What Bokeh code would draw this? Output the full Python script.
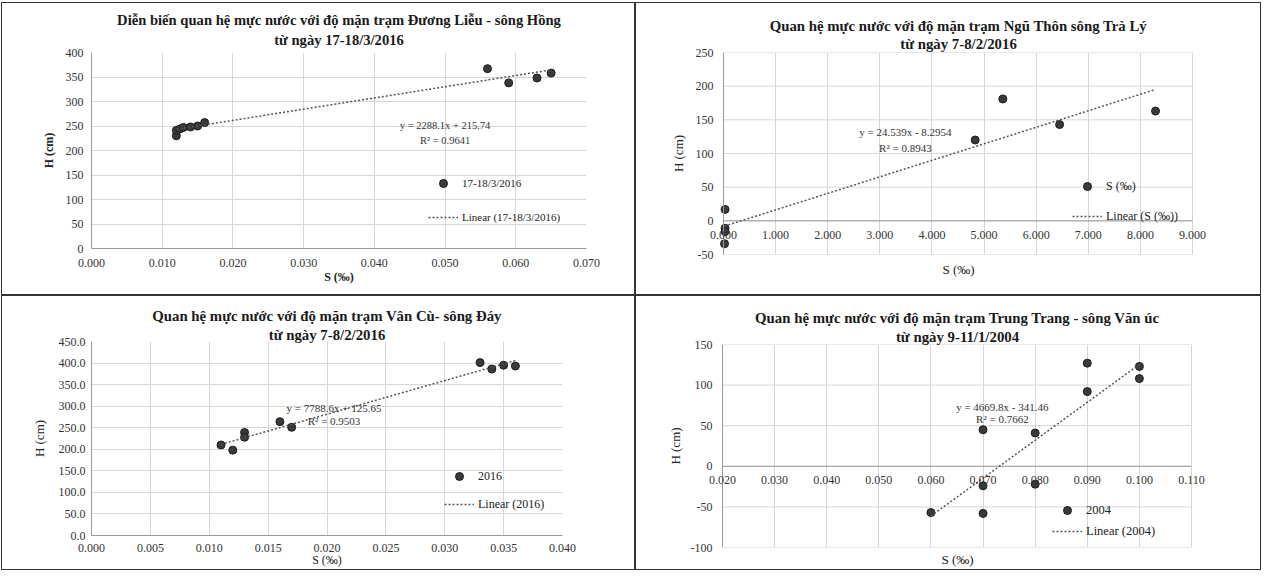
import numpy as np
from bokeh.plotting import figure
from bokeh.models import (Legend, LegendItem, Label, LabelSet, Title, NumeralTickFormatter,
                          FixedTicker, Range1d, Span, ColumnDataSource, Spacer)
from bokeh.layouts import row, column
from bokeh.embed import file_html
from bokeh.resources import INLINE

FONT = "Liberation Serif"

# ---------------- Panel 1: Đương Liễu - sông Hồng ----------------
p1_title = ["Diễn biến quan hệ mực nước với độ mặn trạm Đương Liễu - sông Hồng",
            "từ ngày 17-18/3/2016"]
p1_series = "17-18/3/2016"
p1_s = [0.012, 0.012, 0.0125, 0.013, 0.014, 0.015, 0.016, 0.056, 0.059, 0.063, 0.065]
p1_h = [230, 241, 244, 247, 248, 250, 257, 367, 338, 348, 358]
p1_fit = [2288.1, 215.74]
p1_r2 = [0.9641]
p1_xticks = [0.0, 0.01, 0.02, 0.03, 0.04, 0.05, 0.06, 0.07]
p1_yticks = [0, 50, 100, 150, 200, 250, 300, 350, 400]

# ---------------- Panel 2: Ngũ Thôn - sông Trà Lý ----------------
p2_title = ["Quan hệ mực nước với độ mặn trạm Ngũ Thôn sông Trà Lý",
            "từ ngày 7-8/2/2016"]
p2_series = "S (‰)"
p2_s = [0.03, 0.03, 0.03, 0.02, 4.83, 5.36, 6.45, 8.29]
p2_h = [17, -11, -16, -34, 120, 181, 143, 163]
p2_fit = [24.539, -8.2954]
p2_r2 = [0.8943]
p2_xticks = [0, 1, 2, 3, 4, 5, 6, 7, 8, 9]
p2_yticks = [-50, 0, 50, 100, 150, 200, 250]

# ---------------- Panel 3: Vân Cù - sông Đáy ----------------
p3_title = ["Quan hệ mực nước với độ mặn trạm Vân Cù- sông Đáy",
            "từ ngày 7-8/2/2016"]
p3_series = "2016"
p3_s = [0.011, 0.012, 0.013, 0.013, 0.016, 0.017, 0.033, 0.034, 0.035, 0.036]
p3_h = [210, 198, 239, 228, 264, 251, 401, 386, 395, 393]
p3_fit = [7788.6, 125.65]
p3_r2 = [0.9503]
p3_xticks = [0.0, 0.005, 0.01, 0.015, 0.02, 0.025, 0.03, 0.035, 0.04]
p3_yticks = [0, 50, 100, 150, 200, 250, 300, 350, 400, 450]

# ---------------- Panel 4: Trung Trang - sông Văn Úc ----------------
p4_title = ["Quan hệ mực nước với độ mặn trạm Trung Trang - sông Văn úc",
            "từ ngày 9-11/1/2004"]
p4_series = "2004"
p4_s = [0.06, 0.07, 0.07, 0.07, 0.08, 0.08, 0.09, 0.09, 0.10, 0.10]
p4_h = [-57, 45, -24, -58, 41, -22, 127, 92, 123, 108]
p4_fit = [4669.8, -341.46]
p4_r2 = [0.7662]
p4_xticks = [0.02, 0.03, 0.04, 0.05, 0.06, 0.07, 0.08, 0.09, 0.10, 0.11]
p4_yticks = [-100, -50, 0, 50, 100, 150]

GRID = "#d6d6d6"
AXIS = "#9a9a9a"


def equation(fit):
    a, b = fit
    sign = "+" if b >= 0 else "-"
    return f"y = {a:g}x {sign} {abs(b):g}"


def make_panel(title, s, h, fit, r2, series, xticks, yticks, yfmt,
               width, height, borders, eq_x, eq_y, eq_size, leg_at, leg_spacing,
               leg_size, fixed_x, bold_axis, axis_size_x, axis_size_y,
               xlab_standoff, ylab_standoff, ylabel_standoff, xlabel_standoff,
               title_standoffs, title_size, pad=(0, 0)):
    bl, br, bt, bb = borders
    span = xticks[-1] - xticks[0]
    fw = width - bl - br
    u = span / fw
    pl, pr = pad
    x_range = Range1d(xticks[0] - pl * u, xticks[-1] + pr * u)
    p = figure(width=width, height=height, output_backend="svg",
               toolbar_location=None, title=None,
               x_range=x_range,
               y_range=Range1d(yticks[0], yticks[-1]),
               x_axis_location=None if fixed_x else "below",
               min_border_left=bl - pl, min_border_right=br - pr,
               min_border_top=bt, min_border_bottom=bb,
               styles={"outline": "1px solid #333"})
    p.outline_line_color = None
    p.background_fill_color = "white"
    p.border_fill_color = "white"

    t2 = Title(text=title[1], align="center", text_font=FONT, text_font_size=title_size,
               text_font_style="bold", text_color="#1a1a1a", standoff=title_standoffs[1])
    p.add_layout(t2, "above")
    t1 = Title(text=title[0], align="center", text_font=FONT, text_font_size=title_size,
               text_font_style="bold", text_color="#1a1a1a", standoff=title_standoffs[0])
    p.add_layout(t1, "above")

    p.xgrid.ticker = FixedTicker(ticks=xticks)
    p.xgrid.grid_line_color = GRID
    if pl or pr:
        p.ygrid.visible = False
        n = len(yticks)
        p.segment(x0=[xticks[0]] * n, x1=[xticks[-1]] * n, y0=yticks, y1=yticks,
                  line_color=GRID, line_width=1, level="underlay")
        p.add_layout(Span(location=xticks[0], dimension="height", line_color=AXIS,
                          line_width=1))
    else:
        p.ygrid.ticker = FixedTicker(ticks=yticks)
        p.ygrid.grid_line_color = GRID

    weight = "bold" if bold_axis else "normal"
    axes = [p.yaxis[0]] if fixed_x else [p.xaxis[0], p.yaxis[0]]
    ya = p.yaxis[0]
    ya.ticker = FixedTicker(ticks=yticks)
    ya.formatter = NumeralTickFormatter(format=yfmt)
    for ax in axes:
        ax.major_tick_line_color = None
        ax.minor_tick_line_color = None
        ax.major_tick_out = 0
        ax.major_tick_in = 0
        ax.axis_line_color = AXIS
        ax.major_label_text_font = FONT
        ax.major_label_text_font_size = "12px"
        ax.major_label_text_color = "#333333"
        ax.axis_label_text_font = FONT
        ax.axis_label_text_font_style = weight
        ax.axis_label_text_color = "#222222"
    if pl or pr:
        ya.axis_line_color = None
    ya.major_label_standoff = ylab_standoff - pl
    ya.axis_label = "H (cm)"
    ya.axis_label_text_font_size = axis_size_y
    ya.axis_label_standoff = ylabel_standoff

    if fixed_x:
        n = len(xticks)
        p.segment(x0=[xticks[0]], x1=[xticks[-1]], y0=[0], y1=[0],
                  line_color=AXIS, line_width=1)
        src = ColumnDataSource(dict(x=xticks, y=[0] * n,
                                    t=[f"{v:.3f}" for v in xticks]))
        p.add_layout(LabelSet(x="x", y="y", text="t", source=src,
                              y_offset=-xlab_standoff, text_align="center",
                              text_baseline="top", text_font=FONT,
                              text_font_size="12px", text_color="#333333"))
        xt = Title(text="S (‰)", align="center", text_font=FONT,
                   text_font_size=axis_size_x, text_font_style=weight,
                   text_color="#222222", standoff=xlabel_standoff)
        p.add_layout(xt, "below")
    else:
        xa = p.xaxis[0]
        xa.ticker = FixedTicker(ticks=xticks)
        xa.formatter = NumeralTickFormatter(format="0.000")
        xa.major_label_standoff = xlab_standoff
        xa.axis_label = "S (‰)"
        xa.axis_label_text_font_size = axis_size_x
        xa.axis_label_standoff = xlabel_standoff

    pts = p.scatter(s, h, size=8, fill_color="#3a3a3a", line_color="#1c1c1c")
    fx = np.array([min(s), max(s)])
    fy = fit[0] * fx + fit[1]
    ln = p.line(fx, fy, line_dash="2 2", line_width=1.5, line_color="#555555")

    for txt, yy in ((equation(fit), eq_y[0]), (f"R² = {r2[0]}", eq_y[1])):
        p.add_layout(Label(x=eq_x, y=yy, text=txt, text_font=FONT,
                           text_font_size=eq_size, text_color="#333333",
                           text_align="center", text_baseline="middle"))

    leg = Legend(items=[LegendItem(label=series, renderers=[pts]),
                        LegendItem(label=f"Linear ({series})", renderers=[ln])],
                 location=(leg_at[0] + pl, leg_at[1]), orientation="vertical",
                 padding=0, margin=0, spacing=leg_spacing,
                 glyph_width=30, glyph_height=20, label_height=20,
                 label_standoff=4, border_line_color=None,
                 background_fill_alpha=0,
                 label_text_font=FONT, label_text_font_size=leg_size,
                 label_text_color="#222222")
    p.add_layout(leg, "center")
    return p


p1 = make_panel(p1_title, p1_s, p1_h, p1_fit, p1_r2, p1_series, p1_xticks, p1_yticks,
                "0", 632, 291, (89, 48, 49, 46),
                0.05, (251, 220), "10.5px", (337, 21), 14, "11px",
                False, True, "12px", "12px", 10, 8, 7, 0, (-6, 10), "14.6px")
p2 = make_panel(p2_title, p2_s, p2_h, p2_fit, p2_r2, p2_series, p2_xticks, p2_yticks,
                "0", 624, 291, (87, 68, 49, 40),
                3.49, (132, 108), "11px", (349, 28), 10, "12px",
                True, False, "13px", "13px", 10, 10, 7, 10, (0, 1), "14.8px",
                pad=(14, 15))
p3 = make_panel(p3_title, p3_s, p3_h, p3_fit, p3_r2, p3_series, p3_xticks, p3_yticks,
                "0.0", 632, 273, (89, 72, 45, 34),
                0.0206, (295, 265), "11px", (353, 21), 8, "12px",
                False, False, "12px", "13px", 8, 6, 9, -2, (5, -3), "14.8px")
p4 = make_panel(p4_title, p4_s, p4_h, p4_fit, p4_r2, p4_series, p4_xticks, p4_yticks,
                "0", 624, 273, (86, 69, 48, 22),
                0.0737, (73, 58), "11px", (330, 6), 1, "12.5px",
                True, False, "13px", "13px", 10, 10, 5, 5, (3, -1), "14.8px",
                pad=(14, 15))

# each figure wrapped in its own column so that the rows do not align plot frames
grid = column(row(column(p1), column(p2), spacing=2),
              row(column(p3), column(p4), spacing=2), spacing=2)
page = column(Spacer(height=3), row(Spacer(width=2), grid))

open("out.html", "w").write(file_html(page, INLINE))
